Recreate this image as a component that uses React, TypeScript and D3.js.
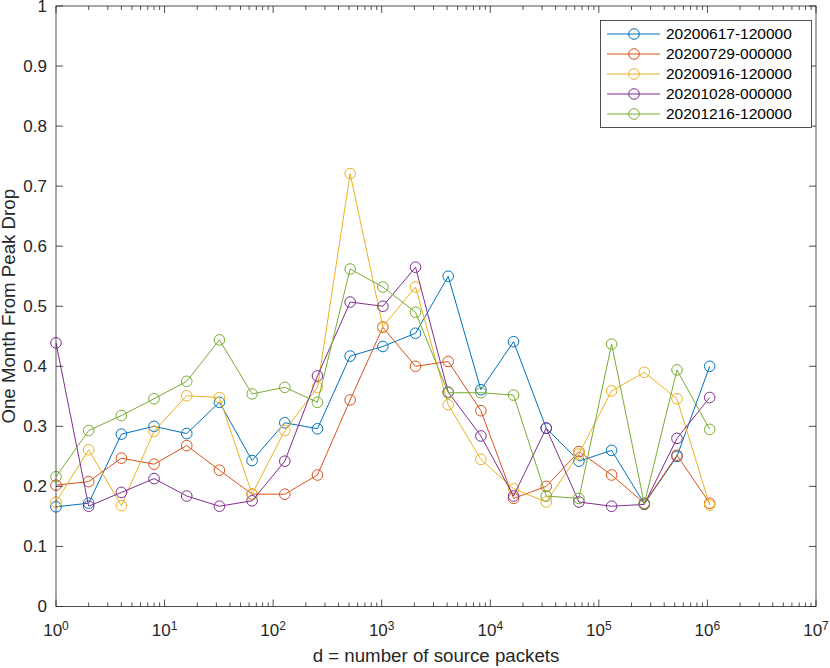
import React from 'react';
import * as d3 from 'd3';

// x positions are 2^0 .. 2^20 source packets
const exponents = d3.range(0, 21);
const seriesNames = [
  '20200617-120000',
  '20200729-000000',
  '20200916-120000',
  '20201028-000000',
  '20201216-120000',
];
const seriesColors = ['#0072BD', '#D95319', '#EDB120', '#7E2F8E', '#77AC30'];

const blue = [0.166, 0.172, 0.287, 0.300, 0.288, 0.340, 0.243, 0.306, 0.296, 0.417, 0.433, 0.455, 0.550, 0.361, 0.441, 0.297, 0.242, 0.260, 0.171, 0.250, 0.400];
const red = [0.202, 0.208, 0.247, 0.237, 0.268, 0.227, 0.187, 0.187, 0.219, 0.344, 0.465, 0.400, 0.408, 0.326, 0.180, 0.200, 0.258, 0.219, 0.172, 0.252, 0.172];
const yellow = [0.174, 0.261, 0.168, 0.292, 0.351, 0.348, 0.187, 0.293, 0.365, 0.721, 0.466, 0.532, 0.336, 0.245, 0.196, 0.174, 0.254, 0.359, 0.390, 0.346, 0.169];
const purple = [0.439, 0.167, 0.190, 0.213, 0.184, 0.167, 0.176, 0.242, 0.384, 0.507, 0.500, 0.565, 0.357, 0.284, 0.184, 0.297, 0.174, 0.167, 0.170, 0.280, 0.348];
const green = [0.216, 0.293, 0.318, 0.346, 0.375, 0.444, 0.354, 0.365, 0.340, 0.562, 0.532, 0.490, 0.356, 0.356, 0.352, 0.184, 0.180, 0.437, 0.171, 0.394, 0.295];
const seriesValues = [blue, red, yellow, purple, green];

const xDecades = d3.range(0, 8); // 10^0 .. 10^7
const yTicks = d3.range(0, 11).map(i => i / 10);

const W = 830;
const H = 668;
const margin = { left: 56, right: 14, top: 6, bottom: 61.5 };
const AXIS = '#262626';
const FONT = '"Liberation Sans", Helvetica, Arial, sans-serif';

export default function App() {
  const x = d3.scaleLog().domain([1, 1e7]).range([margin.left, W - margin.right]);
  const y = d3.scaleLinear().domain([0, 1]).range([H - margin.bottom, margin.top]);
  const [x0, x1] = x.range();
  const [yb, yt] = y.range();

  const line = d3.line<number>()
    .x((_, i) => x(Math.pow(2, exponents[i])))
    .y(d => y(d));

  const minorTicks: number[] = [];
  xDecades.slice(0, -1).forEach(e => {
    for (let m = 2; m <= 9; m++) minorTicks.push(m * Math.pow(10, e));
  });

  const legendX = 600.5;
  const legendY = 20.5;
  const legendW = 211;
  const legendH = 107;
  const rowH = 20;

  return (
    <div style={{ position: 'fixed', left: 0, top: 0, width: W, height: H, background: '#fff' }}>
      <svg width={W} height={H} style={{ display: 'block', fontFamily: FONT }}>
        <rect x={0} y={0} width={W} height={H} fill="#fff" />

        {/* series */}
        {seriesValues.map((vals, s) => (
          <g key={seriesNames[s]}>
            <path d={line(vals) || ''} fill="none" stroke={seriesColors[s]} strokeWidth={1} />
            {vals.map((v, i) => (
              <circle
                key={i}
                cx={x(Math.pow(2, exponents[i]))}
                cy={y(v)}
                r={5.3}
                fill="none"
                stroke={seriesColors[s]}
                strokeWidth={1}
              />
            ))}
          </g>
        ))}

        {/* box */}
        <rect x={x0} y={yt} width={x1 - x0} height={yb - yt} fill="none" stroke={AXIS} strokeWidth={0.8} />

        {/* y ticks, both sides */}
        {yTicks.map(t => (
          <g key={t}>
            <line x1={x0} x2={x0 + 7} y1={y(t)} y2={y(t)} stroke={AXIS} strokeWidth={0.8} />
            <line x1={x1} x2={x1 - 7} y1={y(t)} y2={y(t)} stroke={AXIS} strokeWidth={0.8} />
            <text x={x0 - 9} y={y(t)} dy="0.35em" textAnchor="end" fontSize={17} fill={AXIS}>
              {d3.format('~g')(t)}
            </text>
          </g>
        ))}

        {/* x ticks, both sides */}
        {xDecades.map(e => {
          const px = x(Math.pow(10, e));
          return (
            <g key={e}>
              <line x1={px} x2={px} y1={yb} y2={yb - 7} stroke={AXIS} strokeWidth={0.8} />
              <line x1={px} x2={px} y1={yt} y2={yt + 7} stroke={AXIS} strokeWidth={0.8} />
              <text x={px} y={636} textAnchor="middle" fontSize={17} fill={AXIS}>
                10<tspan dy={-6} fontSize={12}>{e}</tspan>
              </text>
            </g>
          );
        })}
        {minorTicks.map(t => (
          <g key={t}>
            <line x1={x(t)} x2={x(t)} y1={yb} y2={yb - 4} stroke={AXIS} strokeWidth={0.8} />
            <line x1={x(t)} x2={x(t)} y1={yt} y2={yt + 4} stroke={AXIS} strokeWidth={0.8} />
          </g>
        ))}

        {/* axis labels */}
        <text x={(x0 + x1) / 2} y={661.5} textAnchor="middle" fontSize={18.7} fill={AXIS}>
          d = number of source packets
        </text>
        <text
          transform={`translate(15, ${(yb + yt) / 2}) rotate(-90)`}
          textAnchor="middle"
          fontSize={18.7}
          fill={AXIS}
        >
          One Month From Peak Drop
        </text>

        {/* legend */}
        <rect x={legendX} y={legendY} width={legendW} height={legendH} fill="#fff" stroke={AXIS} strokeWidth={0.8} />
        {seriesNames.map((name, s) => {
          const cy = 34 + s * rowH;
          return (
            <g key={name}>
              <line x1={607} x2={660} y1={cy} y2={cy} stroke={seriesColors[s]} strokeWidth={1} />
              <circle cx={634} cy={cy} r={5.3} fill="none" stroke={seriesColors[s]} strokeWidth={1} />
              <text x={666} y={cy} dy="0.35em" fontSize={15.5} fill="#000">
                {name}
              </text>
            </g>
          );
        })}
      </svg>
    </div>
  );
}
